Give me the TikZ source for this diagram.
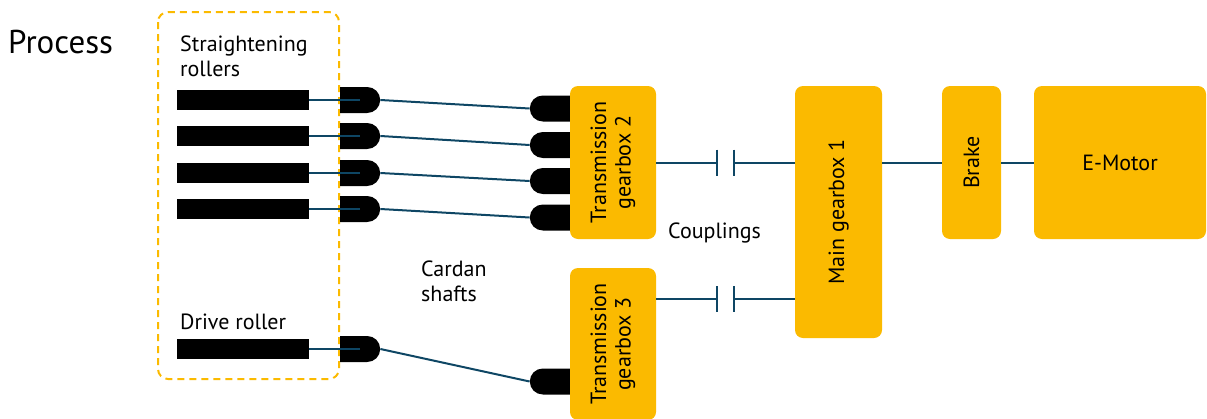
\documentclass[tikz,border=0pt]{standalone}
\usepackage{fontspec}
\setmainfont{PT Sans}
\usetikzlibrary{positioning,shapes.misc}
\definecolor{gold}{RGB}{251,186,0}
\definecolor{shaftblue}{RGB}{14,70,100}

\begin{document}
\begin{tikzpicture}[x=1pt, y=-1pt,
    every node/.style = {font=\fontsize{22}{24.5}\selectfont, text=black, inner sep=0pt},
    unit/.style = {fill=gold, rounded corners=8pt, align=center},
    roller/.style = {fill=black, minimum width=132pt, minimum height=20pt, anchor=west},
    yoke/.style = {fill=black, shape=rounded rectangle, minimum width=40pt, minimum height=26pt},
    yokeA/.style = {yoke, rounded rectangle left arc=none, anchor=west},
    yokeB/.style = {yoke, rounded rectangle right arc=none, anchor=east},
    shaft/.style = {draw=shaftblue, line width=2pt}]
  \useasboundingbox (0,0) rectangle (1207,418);

  \node (p) [anchor=west, font=\fontsize{33}{36}\selectfont] at (8,42) {Process};
  \draw [gold, line width=2pt, dash pattern=on 7pt off 5pt, rounded corners=10pt]
    (158,12) rectangle (339,379);
  \node (t) [anchor=north west, align=left] at (180,36) {Straightening\\rollers};
  \node (d) [anchor=west] at (180,322) {Drive roller};
  \node (s) [anchor=north west, align=left] at (421,261) {Cardan\\shafts};
  \node (c) [anchor=west] at (668,232.5) {Couplings};

  % rollers and cardan shafts
  \node (r1) [roller] at (177,100) {};
  \node (r2) [roller] at (177,136) {};
  \node (r3) [roller] at (177,173) {};
  \node (r4) [roller] at (177,209) {};
  \node (r5) [roller] at (177,349) {};
  \node (a1) [yokeA] at (340,100) {};
  \node (a2) [yokeA] at (340,136) {};
  \node (a3) [yokeA] at (340,173) {};
  \node (a4) [yokeA] at (340,209) {};
  \node (a5) [yokeA] at (340,349) {};
  \node (b1) [yokeB] at (570,108.5) {};
  \node (b2) [yokeB] at (570,145) {};
  \node (b3) [yokeB] at (570,181) {};
  \node (b4) [yokeB] at (570,217.5) {};
  \node (b5) [yokeB] at (570,381.5) {};

  % drive train
  \node (g2) [unit, rotate=90, minimum width=153pt, minimum height=86pt] at (613,162.5) {Transmission\\gearbox 2};
  \node (g3) [unit, rotate=90, minimum width=152pt, minimum height=86pt] at (613,344) {Transmission\\gearbox 3};
  \node (m) [unit, rotate=90, minimum width=252pt, minimum height=87pt] at (838.5,212) {Main gearbox 1};
  \node (b) [unit, rotate=90, minimum width=153pt, minimum height=59pt] at (971.5,162.5) {Brake};
  \node (e) [unit, minimum width=172pt, minimum height=153pt] at (1120,162.5) {E-Motor};

  \coordinate (k1) at (717,162.5);
  \coordinate (k2) at (734,162.5);
  \coordinate (k3) at (717,299);
  \coordinate (k4) at (734,299);

  \draw [shaft] (r1.east) -- (a1.center);
  \draw [shaft] (r2.east) -- (a2.center);
  \draw [shaft] (r3.east) -- (a3.center);
  \draw [shaft] (r4.east) -- (a4.center);
  \draw [shaft] (r5.east) -- (a5.center);
  \draw [shaft] (a1.east) -- (b1.west);
  \draw [shaft] (a2.east) -- (b2.west);
  \draw [shaft] (a3.east) -- (b3.west);
  \draw [shaft] (a4.east) -- (b4.west);
  \draw [shaft] (a5.east) -- (b5.west);

  \draw [shaft] (g2.south |- k1) -- (k1) ++(0,-13) -- ++(0,26);
  \draw [shaft] (k2) ++(0,-13) -- ++(0,26) (k2) -- (k2 -| m.north);
  \draw [shaft] (g3.south |- k3) -- (k3) ++(0,-13) -- ++(0,26);
  \draw [shaft] (k4) ++(0,-13) -- ++(0,26) (k4) -- (k4 -| m.north);
  \draw [shaft] (m.south |- k1) -- (b.north);
  \draw [shaft] (b.south) -- (e.west);
\end{tikzpicture}
\end{document}
